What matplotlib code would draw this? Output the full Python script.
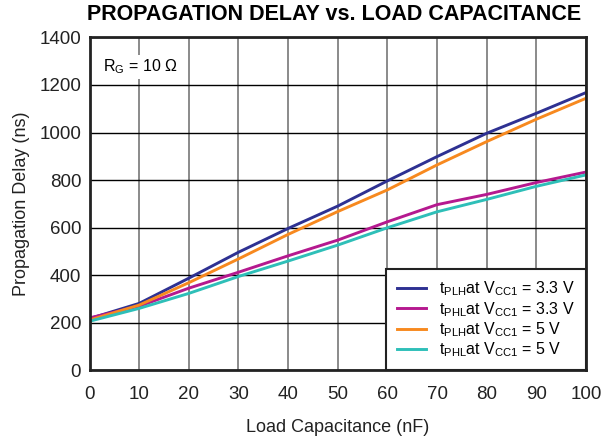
import numpy as np
import matplotlib.pyplot as plt

plt.rcParams['font.family'] = ['Liberation Sans', 'DejaVu Sans']
plt.rcParams['mathtext.fontset'] = 'custom'
plt.rcParams['mathtext.rm'] = 'Liberation Sans'

# load capacitance (nF)
cap = [0, 10, 20, 30, 40, 50, 60, 70, 80, 90, 100]

# propagation delay (ns)
tplh_33 = [218, 282, 388, 497, 597, 691, 797, 899, 997, 1081, 1168]
tphl_33 = [221, 270, 346, 413, 482, 548, 625, 697, 740, 790, 834]
tplh_5 = [212, 275, 369, 469, 572, 668, 759, 864, 962, 1056, 1144]
tphl_5 = [207, 261, 324, 395, 460, 527, 600, 667, 719, 774, 822]

labels = [r'$\mathregular{t_{PLH}}$at $\mathregular{V_{CC1}}$ = 3.3 V',
          r'$\mathregular{t_{PHL}}$at $\mathregular{V_{CC1}}$ = 3.3 V',
          r'$\mathregular{t_{PLH}}$at $\mathregular{V_{CC1}}$ = 5 V',
          r'$\mathregular{t_{PHL}}$at $\mathregular{V_{CC1}}$ = 5 V']
colors = ['#2e3192', '#b5198f', '#f7891f', '#2ebfb8']

fig = plt.figure(figsize=(6.01, 4.40), dpi=100)
ax = fig.add_axes([0.149, 0.158, 0.826, 0.757])

for ys, lab, c in zip([tplh_33, tphl_33, tplh_5, tphl_5], labels, colors):
    ax.plot(cap, ys, color=c, lw=2.1, label=lab)

ax.set_xlim(0, 100)
ax.set_ylim(0, 1400)
ax.set_xticks(np.arange(0, 101, 10))
ax.set_yticks(np.arange(0, 1401, 200))
ax.tick_params(length=0, labelsize=13.5, colors='#222222')
ax.tick_params(axis='x', pad=11)
ax.tick_params(axis='y', pad=6)

# vertical grid grey, horizontal black
ax.xaxis.grid(True, color='#777777', lw=1.2)
ax.yaxis.grid(True, color='black', lw=1.0)
ax.set_axisbelow(True)
for s in ax.spines.values():
    s.set_linewidth(2)
    s.set_color('#222222')

ax.set_xlabel('Load Capacitance (nF)', fontsize=13, labelpad=12, color='#222222')
ax.set_ylabel('Propagation Delay (ns)', fontsize=13, labelpad=7, color='#222222')
fig.text(0.556, 0.967, 'PROPAGATION DELAY vs. LOAD CAPACITANCE', fontsize=15.5,
         fontweight='bold', ha='center', va='center')

ax.text(0.027, 0.94, r'R$_\mathregular{G}$ = 10 $\Omega$', transform=ax.transAxes,
        fontsize=11.5, va='top', ha='left',
        bbox=dict(facecolor='white', edgecolor='none', pad=2))

leg = ax.legend(loc='lower right', fontsize=11.5, fancybox=False, framealpha=1,
                borderaxespad=0, handlelength=1.8, handletextpad=0.8,
                labelspacing=0.1, borderpad=0.7)
leg.get_frame().set_edgecolor('#222222')
leg.get_frame().set_linewidth(1.5)

fig.savefig('out.png', dpi=100)
